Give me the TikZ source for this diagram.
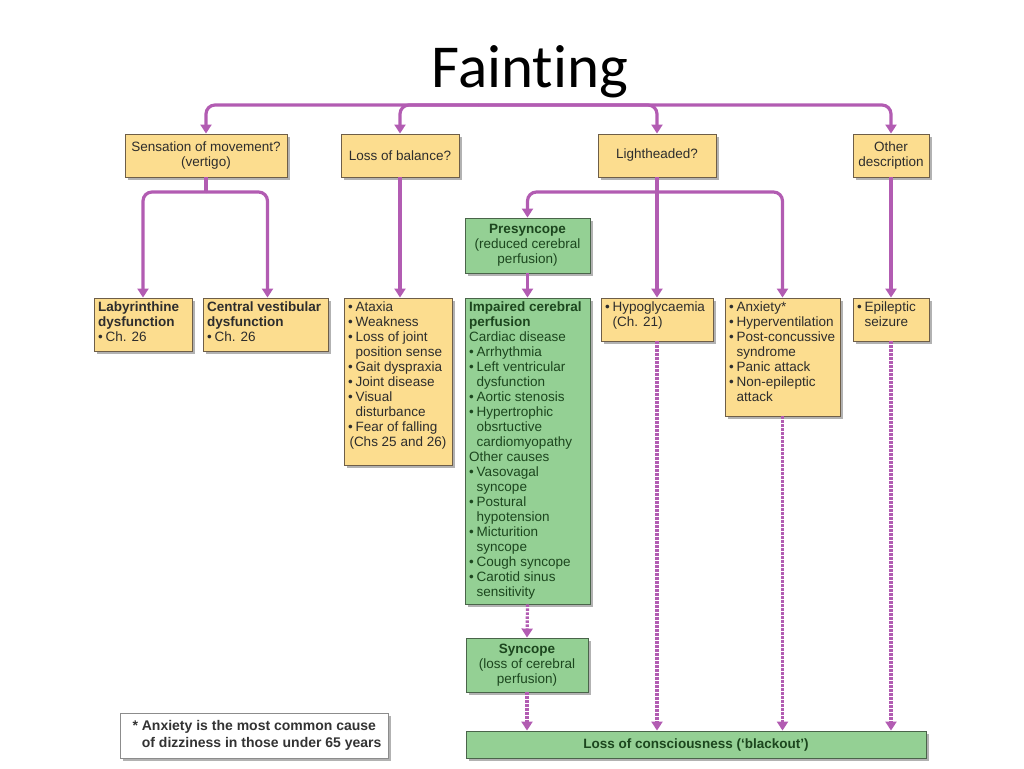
\documentclass[tikz,border=0pt]{standalone}
\usepackage{fontspec}
\setmainfont{Liberation Sans}
\newfontfamily\titlefont[Ligatures=NoCommon]{Carlito}
\usetikzlibrary{arrows.meta,shadows}
\definecolor{yfill}{RGB}{252,221,143}
\definecolor{ydraw}{RGB}{110,94,72}
\definecolor{ytext}{RGB}{45,45,45}
\definecolor{gfill}{RGB}{148,208,148}
\definecolor{gdraw}{RGB}{74,100,74}
\definecolor{gtext}{RGB}{28,70,30}
\definecolor{pur}{RGB}{178,92,178}
\newcommand\itm{\textbullet\hspace{3pt}}
\newcommand\cnt{\hphantom{\textbullet}\hspace{3pt}}
\newcommand\lstbox[3]{\parbox[c][#2pt][t]{#1pt}{\raggedright #3}}
\begin{document}
\begin{tikzpicture}[x=1pt,y=-1pt,
  base/.style={draw, line width=0.9pt, font=\fontsize{13.5}{15}\selectfont, inner sep=3pt,
    drop shadow={shadow xshift=2.5pt,shadow yshift=-2.5pt,opacity=0.3,fill=black}},
  ybox/.style={base, draw=ydraw, fill=yfill, text=ytext},
  gbox/.style={base, draw=gdraw, fill=gfill, text=gtext},
  cbox/.style={align=center},
  lbox/.style={inner sep=4pt},
  link/.style={line width=3.2pt, draw=pur},
  arr/.style={link, -{Triangle[width=11pt,length=9pt]}, rounded corners=9pt},
  dot/.style={arr, dash pattern=on 2.4pt off 1.6pt}]
\useasboundingbox (0,0) rectangle (1024,768);

\node[anchor=base, font=\titlefont\fontsize{61}{61}\selectfont] (title) at (530,87) {Fainting};

% first row
\node[ybox, cbox, minimum width=162, minimum height=43] (sens) at (206,155.5) {Sensation of movement?\\(vertigo)};
\node[ybox, cbox, minimum width=118, minimum height=43] (bal) at (400,155.5) {Loss of balance?};
\node[ybox, cbox, minimum width=118, minimum height=43] (light) at (657,155.5) {Lightheaded?};
\node[ybox, cbox, minimum width=76, minimum height=43] (other) at (891,155.5) {Other\\description};

% presyncope
\node[gbox, cbox, minimum width=125, minimum height=55] (pre) at (527.5,245.5) {\textbf{Presyncope}\\(reduced cerebral\\perfusion)};

% second row
\node[ybox, lbox] (lab) at (143,324.5) {\lstbox{90}{45}{\textbf{Labyrinthine}\\\textbf{dysfunction}\\\itm Ch. 26}};
\node[ybox, lbox] (cent) at (265.5,324.5) {\lstbox{117}{45}{\textbf{Central vestibular}\\\textbf{dysfunction}\\\itm Ch. 26}};
\node[ybox, lbox] (atax) at (398,381.5) {\lstbox{100}{159}{\itm Ataxia\\\itm Weakness\\\itm Loss of joint\\\cnt position sense\\\itm Gait dyspraxia\\\itm Joint disease\\\itm Visual\\\cnt disturbance\\\itm Fear of falling\\\mbox{\hspace{1.5pt}(Chs 25 and 26)}}};
\node[gbox, lbox] (imp) at (527.5,451) {\lstbox{117}{298}{\textbf{Impaired cerebral}\\\textbf{perfusion}\\Cardiac disease\\\itm Arrhythmia\\\itm Left ventricular\\\cnt dysfunction\\\itm Aortic stenosis\\\itm Hypertrophic\\\cnt obsrtuctive\\\cnt cardiomyopathy\\Other causes\\\itm Vasovagal\\\cnt syncope\\\itm Postural\\\cnt hypotension\\\itm Micturition\\\cnt syncope\\\itm Cough syncope\\\itm Carotid sinus\\\cnt sensitivity}};
\node[ybox, lbox] (hypo) at (657,319.5) {\lstbox{104}{35}{\itm Hypoglycaemia\\\cnt(Ch. 21)}};
\node[ybox, lbox] (anx) at (782.5,357) {\lstbox{107}{110}{\itm Anxiety*\\\itm Hyperventilation\\\itm \mbox{Post-concussive}\\\cnt syndrome\\\itm Panic attack\\\itm Non-epileptic\\\cnt attack}};
\node[ybox, lbox] (epi) at (891,319.5) {\lstbox{68}{35}{\itm Epileptic\\\cnt seizure}};

% bottom
\node[gbox, cbox, minimum width=122, minimum height=54] (sync) at (527,665) {\textbf{Syncope}\\(loss of cerebral\\perfusion)};
\node[gbox, cbox, minimum width=460, minimum height=27, font=\fontsize{13.5}{15}\selectfont\bfseries] (black) at (696,744.5) {Loss of consciousness (`blackout')};
\node[base, draw=black!45, fill=white, text=black!80, align=left, minimum width=268, minimum height=45,
  font=\fontsize{14}{17}\selectfont\bfseries] (note) at (254,735.5) {\hspace{6pt}*\ Anxiety is the most common cause\\\hspace{6pt}\hphantom{*\ }of dizziness in those under 65 years};

% connectors
\coordinate (hub) at (478,105);
\draw[arr] (hub) -| (sens.north);
\draw[arr] (hub) -| (bal.north);
\draw[arr] (hub) -| (light.north);
\draw[arr] (hub) -| (other.north);

\coordinate (sb) at (206,192);
\draw[link] (sens.south) -- (sb);
\draw[arr] (sb) -| (lab.north);
\draw[arr] (sb) -| ([xshift=2pt]cent.north);

\draw[arr] (bal.south) -- (bal.south |- atax.north);
\draw[arr] (light.south) -- (hypo.north);
\coordinate (lb) at (657,192);
\draw[arr] (lb) -| (pre.north);
\draw[arr] (lb) -| (anx.north);
\draw[arr] (other.south) -- (epi.north);
\draw[arr] (pre.south) -- (imp.north);

\draw[dot] (imp.south) -- (sync.north);
\draw[dot] (sync.south) -- (sync.south |- black.north);
\draw[dot] (hypo.south) -- (hypo.south |- black.north);
\draw[dot] (anx.south) -- (anx.south |- black.north);
\draw[dot] (epi.south) -- (epi.south |- black.north);
\end{tikzpicture}
\end{document}
